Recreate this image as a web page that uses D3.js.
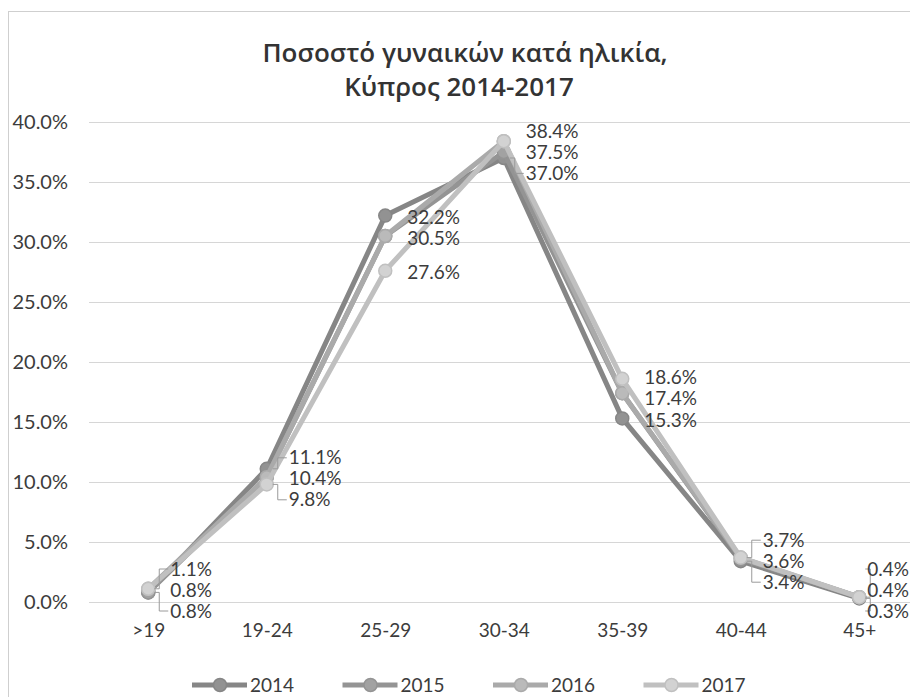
<!DOCTYPE html>
<html>
<head>
<meta charset="utf-8">
<script src="https://cdn.jsdelivr.net/npm/d3@7"></script>
<style>
  html, body { margin: 0; padding: 0; background: #fff; }
  svg { display: block; }
  text { font-family: Lato, "Noto Sans", "Open Sans", sans-serif; fill: #3c3c3c; }
</style>
</head>
<body>
<svg id="chart" width="910" height="697"></svg>
<script>
// ---- data ----
const titleLines = ["Ποσοστό γυναικών κατά ηλικία,", "Κύπρος 2014-2017"];
const categories = [">19", "19-24", "25-29", "30-34", "35-39", "40-44", "45+"];
const seriesNames = ["2014", "2015", "2016", "2017"];
const values2014 = [0.8, 11.1, 32.2, 37.0, 15.3, 3.4, 0.3];
const values2015 = [0.8, 10.4, 30.5, 37.5, 17.4, 3.6, 0.4];
const values2016 = [1.1, 10.4, 30.5, 38.4, 17.4, 3.7, 0.4];
const values2017 = [1.1, 9.8, 27.6, 38.4, 18.6, 3.7, 0.4];
const labeledSeries = ["2014", "2015", "2017"];
const yTicks = [0, 5, 10, 15, 20, 25, 30, 35, 40];
const seriesColors = ["#868686", "#949494", "#aaaaaa", "#c0c0c0"];

const seriesValues = [values2014, values2015, values2016, values2017];
const series = seriesNames.map((name, i) => ({
  name, color: seriesColors[i],
  points: categories.map((c, j) => ({ cat: c, v: seriesValues[i][j] }))
}));

// ---- layout ----
const svg = d3.select("#chart");
const W = 910, H = 697;
const plot = { left: 89, right: 918.5, top: 122, bottom: 602 };

// chart frame
svg.append("rect").attr("x", 8.5).attr("y", 11.5).attr("width", W + 10).attr("height", H + 10)
  .attr("fill", "none").attr("stroke", "#cfcfcf").attr("stroke-width", 1);

const x = d3.scalePoint().domain(categories).range([plot.left, plot.right]).padding(0.5);
const y = d3.scaleLinear().domain([0, 40]).range([plot.bottom, plot.top]);

// title
titleLines.forEach((t, i) => {
  svg.append("text").attr("x", i === 0 ? 465 : 459).attr("y", 62 + i * 34).attr("text-anchor", "middle")
    .style("font-family", "'Open Sans', 'Noto Sans', sans-serif")
    .style("font-size", "26px").style("font-weight", 600).style("fill", "#333")
    .text(t);
});

// gridlines + y axis
const yAxis = d3.axisLeft(y).tickValues(yTicks)
  .tickSize(-(W - plot.left)).tickPadding(21)
  .tickFormat(d => d.toFixed(1) + "%");
const gy = svg.append("g").attr("transform", `translate(${plot.left},0)`).call(yAxis);
gy.select(".domain").remove();
gy.selectAll(".tick line").attr("stroke", "#d6d6d6").attr("stroke-width", 1);
gy.selectAll(".tick text").style("font-size", "20px").style("fill", "#3c3c3c")
  .style("font-family", "Lato, 'Noto Sans', sans-serif");

// x axis labels
const xAxis = d3.axisBottom(x).tickSize(0).tickPadding(22);
const gx = svg.append("g").attr("transform", `translate(0,${plot.bottom})`).call(xAxis);
gx.select(".domain").remove();
gx.selectAll(".tick text").style("font-size", "19px").style("fill", "#3c3c3c")
  .style("font-family", "Lato, 'Noto Sans', sans-serif");

// lines
const line = d3.line().x(d => x(d.cat)).y(d => y(d.v));
const gs = svg.append("g").selectAll("g").data(series).join("g");
gs.append("path").attr("d", d => line(d.points)).attr("fill", "none")
  .attr("stroke", d => d.color).attr("stroke-width", 5).attr("stroke-linejoin", "round");
gs.selectAll("circle").data(d => d.points.map(p => ({ ...p, color: d.color })))
  .join("circle").attr("cx", d => x(d.cat)).attr("cy", d => y(d.v)).attr("r", 6.5)
  .attr("fill", d => d3.color(d.color).brighter(0.25)).attr("stroke", d => d.color).attr("stroke-width", 1.5);

// data labels (stacked per category, overlap resolved)
const spacing = 21;
const maxLabelY = plot.bottom + 9;
const gl = svg.append("g");
categories.forEach((c, j) => {
  const labs = series.filter(s => labeledSeries.includes(s.name))
    .map(s => ({ v: s.points[j].v, want: y(s.points[j].v) }))
    .sort((a, b) => a.want - b.want);
  labs.forEach(l => l.pos = l.want + 2);
  for (let it = 0; it < 200; it++) {
    for (let k = 1; k < labs.length; k++) {
      const gap = labs[k].pos - labs[k - 1].pos;
      if (gap < spacing) {
        const d = (spacing - gap) / 2;
        labs[k].pos += d; labs[k - 1].pos -= d;
      }
    }
  }
  const over = labs[labs.length - 1].pos - maxLabelY;
  if (over > 0) labs.forEach(l => l.pos -= over);
  const cx = x(c);
  labs.forEach(l => {
    const txt = gl.append("text").attr("y", l.pos).attr("dy", "0.35em")
      .style("font-size", "19px").text(l.v.toFixed(1) + "%");
    const tw = txt.node().getComputedTextLength();
    const lx = Math.min(cx + 22, W - tw - 1);
    txt.attr("x", lx);
    if (Math.abs(l.pos - l.want) > 10) {
      gl.insert("polyline", "text")
        .attr("points", `${cx + 6},${l.want} ${cx + 11},${l.want} ${cx + 11},${l.pos} ${lx - 2},${l.pos}`)
        .attr("fill", "none").attr("stroke", "#9a9a9a").attr("stroke-width", 1);
    }
  });
});

// legend
const legendStart = 192, legendStep = 150.5, legendY = 685;
const lg = svg.append("g").selectAll("g").data(series).join("g")
  .attr("transform", (d, i) => `translate(${legendStart + i * legendStep},${legendY})`);
lg.append("line").attr("x1", 0).attr("x2", 55).attr("y1", 0).attr("y2", 0)
  .attr("stroke", d => d.color).attr("stroke-width", 5);
lg.append("circle").attr("cx", 28).attr("cy", 0).attr("r", 6.5)
  .attr("fill", d => d3.color(d.color).brighter(0.25)).attr("stroke", d => d.color).attr("stroke-width", 1.5);
lg.append("text").attr("x", 58).attr("y", 0).attr("dy", "0.35em")
  .style("font-size", "19px").text(d => d.name);
</script>
</body>
</html>
